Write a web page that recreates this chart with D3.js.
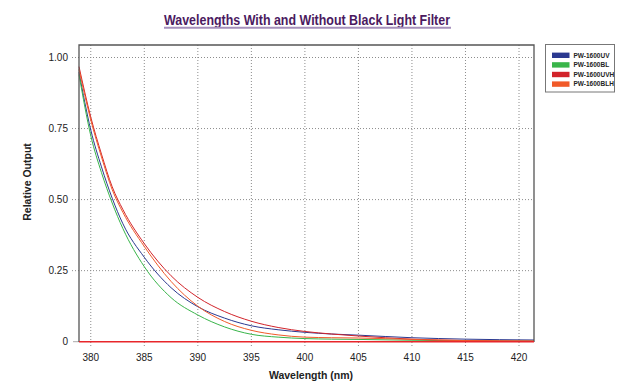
<!DOCTYPE html>
<html>
<head>
<meta charset="utf-8">
<script src="https://cdn.jsdelivr.net/npm/d3@7"></script>
<style>
  body { margin: 0; background: #fff; }
  text { font-family: "Liberation Sans Narrow", "Liberation Sans", Arial, sans-serif; }
</style>
</head>
<body>
<script>
// values
var wavelengths = [378.9, 380, 381, 382, 383, 385, 387.5, 390, 392.5, 395, 397.5, 400, 402.5, 405, 410, 415, 421.4];
var uv  = [0.948, 0.745, 0.615, 0.505, 0.415, 0.297, 0.19, 0.123, 0.083, 0.056, 0.042, 0.033, 0.027, 0.023, 0.014, 0.009, 0.006];
var bl  = [0.94, 0.725, 0.595, 0.488, 0.398, 0.264, 0.155, 0.094, 0.052, 0.026, 0.016, 0.011, 0.009, 0.008, 0.005, 0.003, 0.002];
var uvh = [0.968, 0.79, 0.66, 0.545, 0.465, 0.345, 0.232, 0.156, 0.106, 0.072, 0.05, 0.036, 0.027, 0.02, 0.009, 0.004, 0.002];
var blh = [0.958, 0.78, 0.65, 0.535, 0.455, 0.335, 0.212, 0.125, 0.071, 0.04, 0.024, 0.016, 0.014, 0.013, 0.008, 0.004, 0.002];

var seriesNames = ['PW-1600UV', 'PW-1600BL', 'PW-1600UVH', 'PW-1600BLH'];
var seriesColors = ['#2b3990', '#39b54a', '#d2232a', '#f15a29'];
var xTicks = [380, 385, 390, 395, 400, 405, 410, 415, 420];
var yTicks = [0, 0.25, 0.5, 0.75, 1.0];
var yTickLabels = ['0', '0.25', '0.50', '0.75', '1.00'];

var series = [uv, bl, uvh, blh];

var plotLeft = 79, plotRight = 534, plotTop = 45, plotBottom = 342;

var svg = d3.select('body').append('svg')
  .attr('width', 640)
  .attr('height', 391)

var x = d3.scaleLinear().domain([378.9, 421.4]).range([plotLeft, plotRight]);
var y = d3.scaleLinear().domain([0, 1.0]).range([341.7, 57.5]);

// title
svg.append('text')
  .attr('x', 307).attr('y', 25.3)
  .attr('text-anchor', 'middle')
  .attr('font-size', 14.5)
  .attr('font-weight', 'bold')
  .attr('fill', '#4b1a5f')
  .attr('textLength', 286)
  .attr('lengthAdjust', 'spacingAndGlyphs')
  .text('Wavelengths With and Without Black Light Filter')
svg.append('line')
  .attr('x1', 164).attr('x2', 451)
  .attr('y1', 27.8).attr('y2', 27.8)
  .attr('stroke', '#a690bb')
  .attr('stroke-width', 2)

// grid
svg.append('g').selectAll('line')
  .data(xTicks)
  .enter().append('line')
  .attr('x1', function(d) {return x(d)})
  .attr('x2', function(d) {return x(d)})
  .attr('y1', plotTop)
  .attr('y2', plotBottom + 5)
  .attr('stroke', '#8c8c8c')
  .attr('stroke-dasharray', '1,2')

svg.append('g').selectAll('line')
  .data(yTicks.slice(1))
  .enter().append('line')
  .attr('x1', plotLeft - 7)
  .attr('x2', plotRight)
  .attr('y1', function(d) {return y(d)})
  .attr('y2', function(d) {return y(d)})
  .attr('stroke', '#8c8c8c')
  .attr('stroke-dasharray', '1,2')

svg.append('line')
  .attr('x1', plotLeft - 6).attr('x2', plotLeft)
  .attr('y1', y(0)).attr('y2', y(0))
  .attr('stroke', '#aaa')

// tick labels
svg.append('g').selectAll('text')
  .data(xTicks)
  .enter().append('text')
  .attr('x', function(d) {return x(d)})
  .attr('y', 361)
  .attr('text-anchor', 'middle')
  .attr('font-size', 10)
  .attr('fill', '#222')
  .text(function(d) {return d})

svg.append('g').selectAll('text')
  .data(yTicks)
  .enter().append('text')
  .attr('x', 68)
  .attr('y', function(d) {return y(d) + 3.5})
  .attr('text-anchor', 'end')
  .attr('font-size', 10)
  .attr('fill', '#222')
  .text(function(d, i) {return yTickLabels[i]})

// axis titles
svg.append('text')
  .attr('x', 311).attr('y', 379)
  .attr('text-anchor', 'middle')
  .attr('font-size', 10.5)
  .attr('font-weight', 'bold')
  .attr('fill', '#222')
  .text('Wavelength (nm)')

svg.append('text')
  .attr('transform', 'translate(31,182) rotate(-90)')
  .attr('text-anchor', 'middle')
  .attr('font-size', 10.5)
  .attr('font-weight', 'bold')
  .attr('fill', '#222')
  .text('Relative Output')

// lines
var line = d3.line()
  .x(function(d, i) {return x(wavelengths[i])})
  .y(function(d) {return y(d)})
  .curve(d3.curveMonotoneX)

svg.append('g').selectAll('path')
  .data(series)
  .enter().append('path')
  .attr('d', function(d) {return line(d)})
  .attr('fill', 'none')
  .attr('stroke', function(d, i) {return seriesColors[i]})
  .attr('stroke-width', 1)

// frame
svg.append('path')
  .attr('d', 'M' + plotLeft + ',' + plotBottom + 'V' + plotTop + 'H' + plotRight + 'V' + plotBottom)
  .attr('fill', 'none')
  .attr('stroke', '#555')
  .attr('stroke-width', 1.3)

// red baseline at zero
svg.append('line')
  .attr('x1', plotLeft).attr('x2', plotRight)
  .attr('y1', y(0)).attr('y2', y(0))
  .attr('stroke', '#e8262b')
  .attr('stroke-width', 1.5)

// legend
svg.append('rect')
  .attr('x', 545.5).attr('y', 44.5)
  .attr('width', 69).attr('height', 47.5)
  .attr('fill', '#fff')
  .attr('stroke', '#777')

var items = svg.append('g').selectAll('g')
  .data(seriesNames)
  .enter().append('g')
  .attr('transform', function(d, i) {return 'translate(552,' + (55.3 + i * 9.6) + ')'})

items.append('rect')
  .attr('x', 0).attr('y', -2.7)
  .attr('width', 17.5).attr('height', 5.4)
  .attr('fill', function(d, i) {return seriesColors[i]})

items.append('text')
  .attr('x', 21.5).attr('y', 2.3)
  .attr('font-size', 6.5)
  .attr('font-weight', 'bold')
  .attr('fill', '#222')
  .text(function(d) {return d})
</script>
</body>
</html>
